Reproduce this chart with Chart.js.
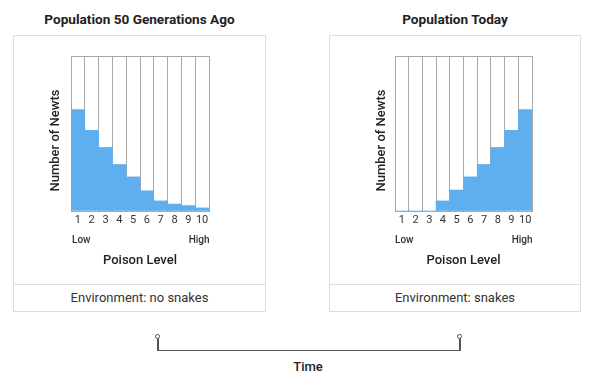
<!DOCTYPE html>
<html>
<head>
<meta charset="utf-8">
<script src="https://cdn.jsdelivr.net/npm/chart.js@4.4.1/dist/chart.umd.min.js"></script>
<style>
  html, body { margin:0; padding:0; background:#fff; }
  body { width:590px; height:383px; position:relative; overflow:hidden; font-family: Roboto, "Liberation Sans", sans-serif; color:#222; }
  .ttl { position:absolute; top:10px; height:18px; line-height:18px; font-size:13.6px; font-weight:700; text-align:center; color:#222; }
  .box { position:absolute; top:35px; height:277px; box-sizing:border-box; border:1px solid #ddd; }
  .div { position:absolute; left:0; right:0; top:248px; height:0; border-top:1px solid #ddd; }
  .env { position:absolute; left:0; right:0; top:249px; height:26px; line-height:26px; text-align:center; font-size:13px; color:#333; }
  canvas { position:absolute; top:35px; }
  .tl { position:absolute; background:#555; }
  .dot { position:absolute; width:5px; height:5px; border:1.3px solid #555; border-radius:50%; background:#fff; box-sizing:border-box; }
  .time { position:absolute; left:258px; width:100px; top:359px; height:16px; line-height:16px; text-align:center; font-size:13px; font-weight:500; color:#222; }
</style>
</head>
<body>
<div class="ttl" style="left:13px;width:253px;">Population 50 Generations Ago</div>
<div class="ttl" style="left:329px;width:252px;">Population Today</div>

<div class="box" style="left:13px;width:253px;"><div class="div"></div><div class="env">Environment: no snakes</div></div>
<div class="box" style="left:329px;width:252px;"><div class="div"></div><div class="env">Environment: snakes</div></div>

<canvas id="c1" width="253" height="249" style="left:13px;"></canvas>
<canvas id="c2" width="252" height="249" style="left:329px;"></canvas>

<div class="tl" style="left:157px;top:338px;width:1.5px;height:13px;"></div>
<div class="tl" style="left:459px;top:338px;width:1.5px;height:13px;"></div>
<div class="tl" style="left:157px;top:349.5px;width:303.5px;height:1.5px;"></div>
<div class="dot" style="left:155.3px;top:333.5px;"></div>
<div class="dot" style="left:457.3px;top:333.5px;"></div>
<div class="time">Time</div>

<script>
// ---- data ----
const categories = ['1','2','3','4','5','6','7','8','9','10'];
const pastValues  = [65.5, 52, 41, 30, 22, 13, 6.5, 4.5, 3.5, 2];
const todayValues = [0, 0, 0, 6.5, 13.5, 22, 30, 41, 52, 65.5];
const yMin = 0;
const yMax = 100;
const xTitle = 'Poison Level';
const yTitle = 'Number of Newts';
const lowLabel = 'Low';
const highLabel = 'High';

const FONT = 'Roboto, "Liberation Sans", sans-serif';
const GRID = '#a8a8a8';
const BAR = '#5FAEEE';

const annot = {
  id: 'annot',
  afterDraw(chart, args, opts) {
    const {ctx, chartArea: a} = chart;
    ctx.save();
    ctx.fillStyle = '#333';
    ctx.font = '500 10px ' + FONT;
    ctx.textBaseline = 'middle';
    ctx.textAlign = 'left';
    ctx.fillText(lowLabel, a.left + opts.lowDx, a.bottom + 29);
    ctx.textAlign = 'right';
    ctx.fillText(highLabel, a.right + 0.5, a.bottom + 29);
    // y title
    ctx.translate(a.left - opts.yTitleDx, (a.top + a.bottom) / 2 + 7);
    ctx.rotate(-Math.PI / 2);
    ctx.textAlign = 'center';
    ctx.fillStyle = '#222';
    ctx.font = '500 13px ' + FONT;
    ctx.fillText(yTitle, 0, 0);
    ctx.restore();
  }
};

function makeChart(id, values, padL, yWidth, padR, yTitleDx, lowDx) {
  return new Chart(document.getElementById(id), {
    type: 'bar',
    data: {
      labels: categories,
      datasets: [{
        data: values,
        backgroundColor: BAR,
        borderWidth: 0,
        barPercentage: 1,
        categoryPercentage: 1
      }]
    },
    options: {
      responsive: false,
      animation: false,
      layout: { padding: { left: padL, right: padR, top: 21, bottom: 15 } },
      plugins: {
        legend: { display: false },
        tooltip: { enabled: false },
        annot: { yTitleDx, lowDx }
      },
      scales: {
        x: {
          z: 1,
          grid: { offset: true, color: GRID, lineWidth: 1, drawTicks: false },
          border: { color: GRID, width: 1 },
          ticks: { color: '#333', font: { family: FONT, size: 11 }, padding: 3, maxRotation: 0, autoSkip: false },
          title: { display: true, text: xTitle, color: '#222', font: { family: FONT, size: 13, weight: '500' }, padding: 0 },
          afterFit: s => { s.height = 58; }
        },
        y: {
          min: yMin, max: yMax,
          ticks: { display: false },
          grid: { drawTicks: false, lineWidth: 1, color: c => (c.tick && c.tick.value === yMax) ? GRID : 'rgba(0,0,0,0)' },
          border: { display: false },
          afterFit: s => { s.width = yWidth; }
        }
      }
    },
    plugins: [annot]
  });
}

makeChart('c1', pastValues, 34, 24, 57, 15, 1);
makeChart('c2', todayValues, 44, 22, 49, 13, 0);
</script>
</body>
</html>
